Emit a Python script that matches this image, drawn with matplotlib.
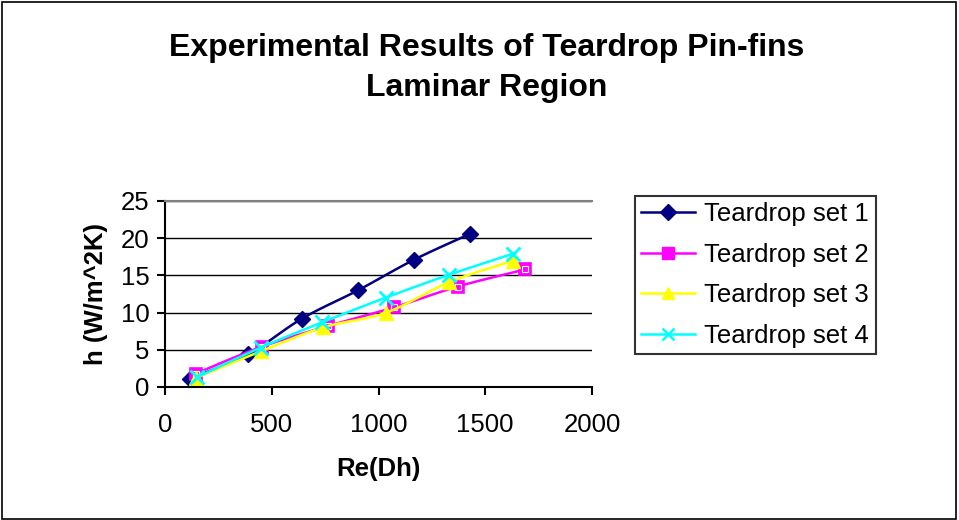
import numpy as np
import matplotlib
matplotlib.use('Agg')
import matplotlib.pyplot as plt
from matplotlib.patches import Rectangle

plt.rcParams['font.family'] = ['Liberation Sans', 'DejaVu Sans']

# Data
re1 = [117, 389, 642, 904, 1166, 1429]
h1 = [1.1, 4.4, 9.2, 13.0, 17.1, 20.6]
re2 = [143, 452, 764, 1072, 1371, 1686]
h2 = [1.8, 5.4, 8.2, 10.7, 13.5, 15.8]
re3 = [143, 449, 740, 1036, 1332, 1632]
h3 = [1.2, 4.8, 8.0, 10.0, 14.1, 17.0]
re4 = [148, 449, 737, 1033, 1332, 1628]
h4 = [1.3, 5.3, 8.7, 12.0, 15.1, 17.9]

labels = ['Teardrop set 1', 'Teardrop set 2', 'Teardrop set 3', 'Teardrop set 4']
colors = ['#000080', '#FF00FF', '#FFFF00', '#00FFFF']
markers = ['D', 's', '^', 'x']


def smooth(xs, ys, n=20):
    # Catmull-Rom curve through the points, like Excel's smoothed lines
    p = np.column_stack([xs, ys]).astype(float)
    p = np.vstack([p[0] - (p[1] - p[0]), p, p[-1] + (p[-1] - p[-2])])
    out = []
    t = np.linspace(0, 1, n)[:, None]
    for i in range(1, len(p) - 2):
        p0, p1, p2, p3 = p[i - 1], p[i], p[i + 1], p[i + 2]
        seg = 0.5 * ((2 * p1) + (-p0 + p2) * t + (2 * p0 - 5 * p1 + 4 * p2 - p3) * t ** 2
                     + (-p0 + 3 * p1 - 3 * p2 + p3) * t ** 3)
        out.append(seg)
    out = np.vstack(out)
    return out[:, 0], out[:, 1]


fig = plt.figure(figsize=(9.59, 5.20), dpi=100)
fig.patches.append(Rectangle((0.002, 0.002), 0.995, 0.994, transform=fig.transFigure,
                             fill=False, edgecolor='black', linewidth=1.2))

ax = fig.add_axes([165 / 959, 1 - 387 / 520, 427 / 959, 186 / 520])

msize = {'D': 8.5, 's': 8.5, '^': 9.5, 'x': 10}
for xs, ys, c, m, lab in zip([re1, re2, re3, re4], [h1, h2, h3, h4], colors, markers, labels):
    sx, sy = smooth(xs, ys)
    ax.plot(sx, sy, color=c, linewidth=1.8)
    if m == 's':
        ax.plot(xs, ys, linestyle='none', marker=m, markersize=msize[m], markerfacecolor=c,
                markeredgecolor=c, markeredgewidth=1.2)
        ax.plot(xs, ys, linestyle='none', marker=m, markersize=4.5, markerfacecolor='none',
                markeredgecolor='white', markeredgewidth=0.8)
    elif m == 'x':
        ax.plot(xs, ys, linestyle='none', marker=m, markersize=msize[m], color=c,
                markeredgewidth=2)
    else:
        ax.plot(xs, ys, linestyle='none', marker=m, markersize=msize[m], color=c)
    ax.plot([], [], color=c, linewidth=1.8, marker=m,
            markersize=9 if m == 'x' else 8, markeredgewidth=1.8 if m == 'x' else 1,
            label=lab)

ax.set_xlim(0, 2000)
ax.set_ylim(0, 25)
ax.set_xticks([0, 500, 1000, 1500, 2000])
ax.set_yticks([0, 5, 10, 15, 20, 25])
ax.yaxis.grid(True, color='black', linewidth=1)
ax.set_axisbelow(True)
ax.spines['right'].set_visible(False)
ax.spines['top'].set_color('#808080')
ax.spines['top'].set_linewidth(1.5)
ax.spines['left'].set_linewidth(1.5)
ax.spines['bottom'].set_linewidth(1.5)
ax.tick_params(direction='out', length=6, width=1.5, labelsize=18.5, pad=5)
ax.tick_params(axis='x', pad=13)

ax.set_xlabel('Re(Dh)', fontsize=18.5, fontweight='bold', labelpad=14)
ax.set_ylabel('h (W/m^2K)', fontsize=18.5, fontweight='bold', labelpad=9)

fig.text(487 / 959, 1 - 48 / 520, 'Experimental Results of Teardrop Pin-fins',
         ha='center', va='center', fontsize=23, fontweight='bold')
fig.text(487 / 959, 1 - 88 / 520, 'Laminar Region',
         ha='center', va='center', fontsize=23, fontweight='bold')

leg = fig.legend(loc='upper left', bbox_to_anchor=(635 / 959, 1 - 196 / 520),
                 fontsize=18.5, frameon=True, fancybox=False, edgecolor='black',
                 handlelength=2.1, labelspacing=0.64, borderpad=0.25, handletextpad=0.35,
                 borderaxespad=0)
leg.get_frame().set_linewidth(1.5)

fig.savefig('out.png', dpi=100)
